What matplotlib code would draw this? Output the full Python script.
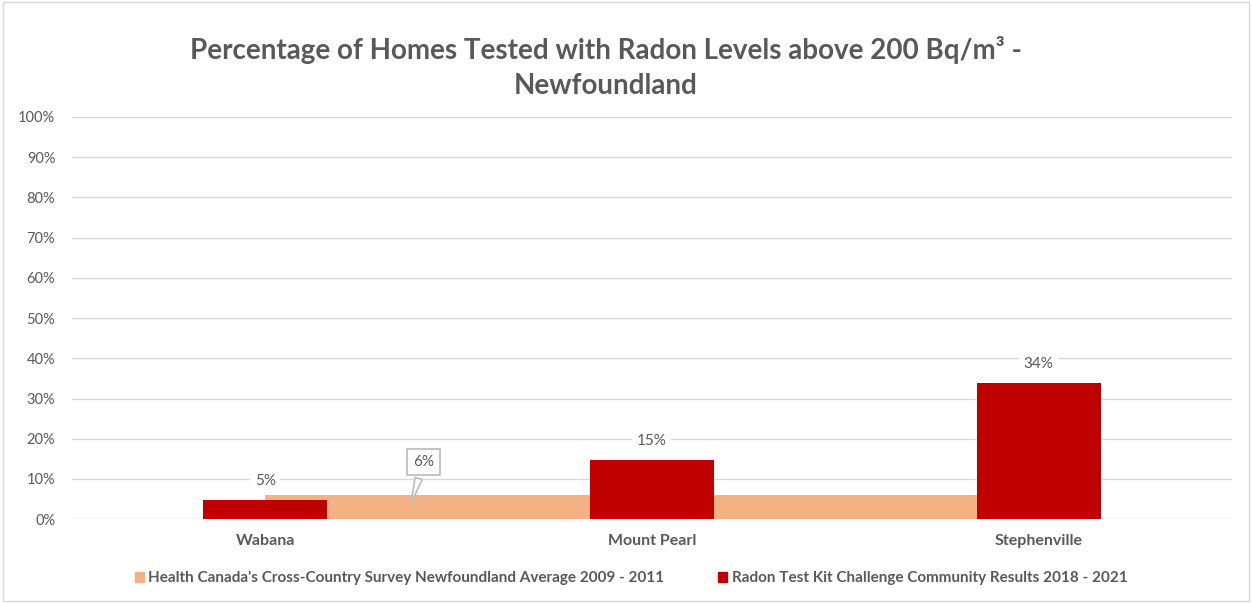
import matplotlib.pyplot as plt
from matplotlib.patches import Rectangle, Patch

plt.rcParams['font.family'] = ['Lato', 'DejaVu Sans']

# data
towns = ['Wabana', 'Mount Pearl', 'Stephenville']
survey_avg = [0.06, 0.06, 0.06]          # Health Canada survey average
community = [0.047, 0.146, 0.338]        # radon test kit challenge results
yticks = [i / 10 for i in range(11)]

grey = '#595959'
orange = '#F4B183'
red = '#C00000'

fig = plt.figure(figsize=(12.52, 6.03), dpi=100)
ax = fig.add_axes([0.0575, 0.139, 0.9265, 0.667])

x = list(range(len(towns)))

# orange area spanning the categories
ax.fill_between(x, 0, survey_avg, color=orange, zorder=2, linewidth=0)
ax.bar(x, community, width=0.32, color=red, zorder=3)

for xi, v in zip(x, community):
    ax.annotate('{:.0%}'.format(v), (xi, v), xytext=(0, 9), textcoords='offset points',
                ha='center', va='bottom', fontsize=11, color=grey, zorder=4,
                bbox=dict(boxstyle='square,pad=0.3', fc='white', ec='none'))

ax.annotate('{:.0%}'.format(survey_avg[0]), xy=(0.375, 0.035), xytext=(0.41, 0.142),
            ha='center', va='center', fontsize=11, color=grey, zorder=5,
            bbox=dict(boxstyle='square,pad=0.4', fc='white', ec='#bfbfbf', lw=1.3),
            arrowprops=dict(arrowstyle='wedge,tail_width=0.5', fc='white', ec='#bfbfbf', lw=1.3))

ax.set_xlim(-0.5, 2.5)
ax.set_ylim(0, 1)
ax.set_yticks(yticks)
ax.set_yticklabels(['{:.0%}'.format(t) for t in yticks], color=grey, fontsize=10.5)
ax.set_xticks(x)
ax.set_xticklabels(towns, color=grey, fontsize=11.5, fontweight='bold')
ax.tick_params(axis='both', length=0)
ax.tick_params(axis='x', pad=11)
ax.tick_params(axis='y', pad=12)
ax.grid(axis='y', color='#d9d9d9', linewidth=1, zorder=0)
ax.set_axisbelow(True)
for s in ax.spines.values():
    s.set_visible(False)

fig.text(0.484, 0.917, 'Percentage of Homes Tested with Radon Levels above 200 Bq/m³ -',
         ha='center', va='center', fontsize=20, fontweight='bold', color=grey)
fig.text(0.484, 0.858, 'Newfoundland', ha='center', va='center', fontsize=20,
         fontweight='bold', color=grey)

handles = [Patch(color=orange), Patch(color=red)]
labels = ["Health Canada's Cross-Country Survey Newfoundland Average 2009 - 2011",
          'Radon Test Kit Challenge Community Results 2018 - 2021']
fig.legend(handles, labels, loc='center', bbox_to_anchor=(0.504, 0.041), ncol=2,
           frameon=False, prop={'size': 11, 'weight': 'bold'}, labelcolor=grey,
           handlelength=0.6, handleheight=0.6, handletextpad=0.3, columnspacing=3.5)

fig.add_artist(Rectangle((0.002, 0.004), 0.996, 0.992, transform=fig.transFigure,
                         fill=False, ec='#d9d9d9', lw=1))

fig.savefig('out.png', dpi=100)
